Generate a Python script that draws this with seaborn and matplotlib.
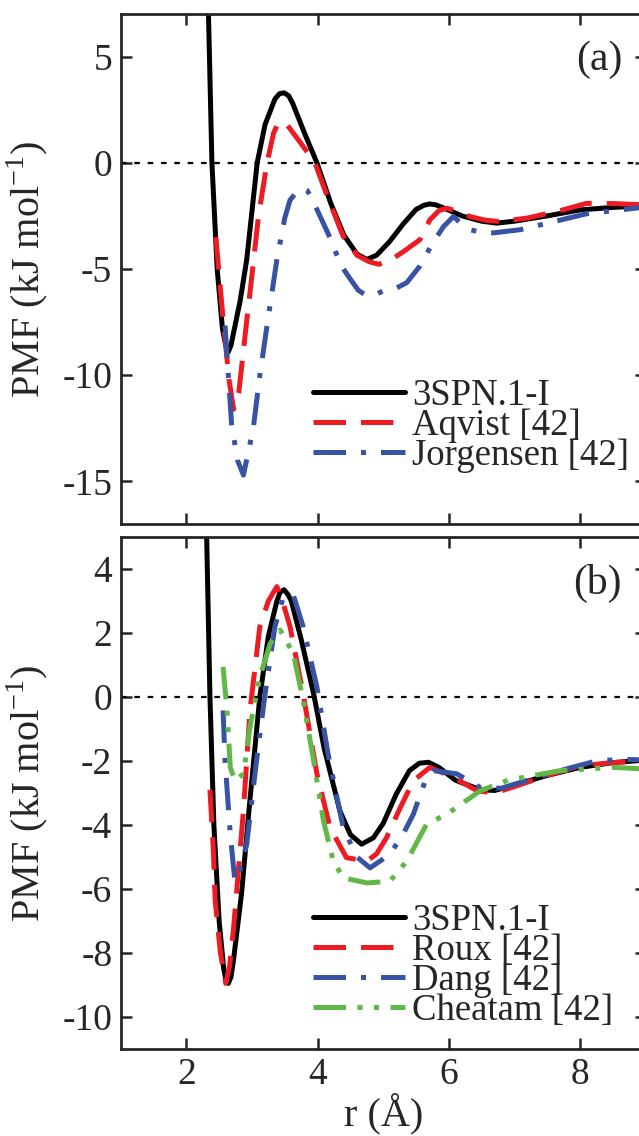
import numpy as np
import pandas as pd
import matplotlib
matplotlib.use("Agg")
import matplotlib.pyplot as plt
import seaborn as sns

# panel (a) curves
a_black_x = [2.33, 2.39, 2.47, 2.55, 2.60, 2.64, 2.68, 2.72, 2.82, 2.92, 3.08, 3.20, 3.35, 3.42, 3.49,
             3.56, 3.62, 3.80, 3.99, 4.20, 4.40, 4.60, 4.75, 4.90, 5.10, 5.30, 5.50, 5.62, 5.71,
             5.80, 5.90, 6.20, 6.50, 6.73, 7.00, 7.50, 8.00, 8.50, 9.00]
a_black_y = [8.0, 0.0, -5.0, -7.8, -8.6, -8.9, -8.6, -8.0, -6.5, -4.57, 0.0, 1.8, 3.0, 3.25, 3.29,
             3.15, 2.8, 1.4, 0.0, -1.9, -3.4, -4.3, -4.55, -4.35, -3.7, -2.9, -2.2, -2.0, -1.94,
             -1.98, -2.1, -2.5, -2.75, -2.84, -2.75, -2.5, -2.22, -2.1, -2.02]
a_red_x = [2.45, 2.55, 2.65, 2.72, 2.80, 2.90, 3.00, 3.10, 3.23, 3.33, 3.39, 3.45, 3.52, 3.58, 3.75,
           3.96, 4.15, 4.39, 4.60, 4.78, 4.93, 5.10, 5.30, 5.56, 5.71, 5.85, 5.97, 6.15, 6.32,
           6.55, 6.78, 7.20, 7.70, 8.10, 8.50, 9.00]
a_red_y = [-3.5, -7.0, -10.2, -11.6, -10.8, -8.0, -5.3, -2.5, 0.0, 1.4, 1.8, 1.95, 1.85, 1.6, 0.9,
           0.0, -1.6, -3.46, -4.35, -4.65, -4.78, -4.6, -4.2, -3.62, -2.69, -2.25, -2.14, -2.3, -2.53,
           -2.7, -2.77, -2.6, -2.25, -1.91, -1.92, -1.98]
a_blue_x = [2.59, 2.69, 2.78, 2.87, 3.02, 3.12, 3.23, 3.38, 3.50, 3.58, 3.70, 3.78, 3.84, 3.90, 4.04,
            4.20, 4.35, 4.50, 4.62, 4.75, 4.88, 5.00, 5.20, 5.36, 5.56, 5.75, 5.92, 6.07, 6.20,
            6.32, 6.50, 6.68, 7.09, 7.60, 8.10, 8.61, 9.00]
a_blue_y = [-7.66, -12.3, -14.0, -14.7, -12.5, -10.0, -7.66, -4.56, -2.6, -1.76, -1.3, -1.21, -1.3, -1.6, -2.53,
            -3.6, -4.8, -5.48, -6.0, -6.26, -6.2, -6.03, -5.9, -5.64, -4.86, -3.8, -3.0, -2.53, -2.9,
            -3.15, -3.28, -3.3, -3.15, -2.77, -2.4, -2.22, -2.08]

# panel (b) curves
b_black_x = [2.30, 2.36, 2.42, 2.50, 2.57, 2.60, 2.64, 2.68, 2.72, 2.84, 2.97, 3.12, 3.25, 3.38, 3.43,
             3.49, 3.55, 3.60, 3.75, 3.94, 4.10, 4.34, 4.50, 4.67, 4.85, 5.00, 5.20, 5.40, 5.55,
             5.69, 5.85, 6.10, 6.48, 6.70, 7.00, 7.50, 8.00, 8.50, 9.00]
b_black_y = [6.0, 0.0, -4.0, -7.0, -8.5, -8.8, -8.95, -8.75, -8.2, -6.17, -3.2, 0.0, 1.9, 3.0, 3.28,
             3.35, 3.2, 3.0, 1.8, 0.1, -1.6, -3.56, -4.3, -4.6, -4.4, -3.95, -3.03, -2.3, -2.07,
             -2.04, -2.2, -2.6, -2.9, -2.92, -2.75, -2.45, -2.2, -2.05, -1.97]
b_red_x = [2.36, 2.41, 2.44, 2.52, 2.60, 2.66, 2.72, 2.87, 2.97, 3.12, 3.25, 3.38, 3.48, 3.58, 3.78,
           3.99, 4.19, 4.44, 4.75, 4.90, 5.05, 5.25, 5.46, 5.71, 6.07, 6.43, 6.70, 7.00, 7.50,
           8.00, 8.50, 9.00]
b_red_y = [-2.9, -4.71, -6.38, -8.0, -8.95, -8.4, -7.22, -3.56, -0.42, 2.2, 3.0, 3.45, 2.9, 2.2, 0.1,
           -2.4, -4.08, -5.02, -5.13, -4.9, -4.4, -3.5, -2.62, -2.2, -2.51, -2.93, -3.0, -2.8, -2.45,
           -2.15, -2.05, -2.0]
b_blue_x = [2.56, 2.59, 2.67, 2.74, 2.82, 2.92, 3.07, 3.20, 3.35, 3.48, 3.63, 3.78, 3.99, 4.16, 4.39,
            4.60, 4.80, 5.10, 5.30, 5.46, 5.66, 5.76, 6.12, 6.48, 6.80, 7.20, 7.70, 8.26, 8.70, 9.00]
b_blue_y = [-0.42, -1.99, -4.29, -5.76, -5.4, -4.6, -1.99, 0.1, 2.2, 3.14, 3.19, 2.2, 0.31, -1.78, -4.08,
            -5.0, -5.34, -4.92, -4.3, -3.66, -2.51, -2.3, -2.4, -2.83, -2.85, -2.6, -2.3, -1.99, -1.95, -1.97]
b_green_x = [2.56, 2.62, 2.67, 2.74, 2.87, 2.97, 3.12, 3.28, 3.43, 3.63, 3.78, 3.94, 4.09, 4.24, 4.39,
             4.75, 5.10, 5.36, 5.66, 5.97, 6.48, 6.90, 7.70, 8.51, 9.00]
b_green_y = [0.94, -0.42, -2.2, -2.62, -2.4, -0.94, 0.63, 1.68, 2.09, 1.36, -0.1, -1.99, -3.87, -5.13, -5.65,
             -5.81, -5.76, -5.13, -3.98, -3.66, -2.93, -2.6, -2.3, -2.2, -2.25]

a_labels = ["3SPN.1-I", "Aqvist [42]", "Jorgensen [42]"]
b_labels = ["3SPN.1-I", "Roux [42]", "Dang [42]", "Cheatam [42]"]

a_ticks = [5, 0, -5, -10, -15]
b_ticks = [4, 2, 0, -2, -4, -6, -8, -10]
x_ticks = [2, 4, 6, 8]

colors = ["#000000", "#ED1C24", "#3953A4", "#62B846"]
dash_styles = ["", (6.5, 3), (6.5, 3, 1, 3), (6.5, 2.3, 1, 2.3, 1, 2.3)]

sns.set_style("ticks")
plt.rcParams["font.family"] = ["Liberation Serif", "DejaVu Serif"]
plt.rcParams["axes.unicode_minus"] = False
plt.rcParams["mathtext.fontset"] = "custom"
plt.rcParams["mathtext.rm"] = "Liberation Serif"


def make_df(xs, ys, labels):
    frames = []
    for x, y, lab in zip(xs, ys, labels):
        frames.append(pd.DataFrame({"r": x, "pmf": y, "model": lab}))
    return pd.concat(frames, ignore_index=True)


df_a = make_df([a_black_x, a_red_x, a_blue_x], [a_black_y, a_red_y, a_blue_y], a_labels)
df_b = make_df([b_black_x, b_red_x, b_blue_x, b_green_x],
               [b_black_y, b_red_y, b_blue_y, b_green_y], b_labels)

W, H = 639, 1136
fig = plt.figure(figsize=(W / 100, H / 100), dpi=100)
ax1 = fig.add_axes([120.7 / W, 1 - 524 / H, 525 / W, 510 / H])
ax2 = fig.add_axes([120.7 / W, 1 - 1049 / H, 525 / W, 512 / H])

for ax, df, labels, ticks, ylim, tag, leg_y in [
    (ax1, df_a, a_labels, a_ticks, (-17, 7), "(a)", 0.286),
    (ax2, df_b, b_labels, b_ticks, (-11, 5), "(b)", 0.285),
]:
    n = len(labels)
    ax.axhline(0, color="black", lw=1.6, ls=(0, (2.5, 3.5)), zorder=1)
    sns.lineplot(data=df, x="r", y="pmf", hue="model", style="model",
                 palette=dict(zip(labels, colors[:n])),
                 dashes=dict(zip(labels, dash_styles[:n])),
                 sort=False, estimator=None, linewidth=3.6, ax=ax)
    handles, labs = ax.get_legend_handles_labels()
    ax.legend(handles, labs, loc="upper left", frameon=False, fontsize=26.5,
              handlelength=2.5, handletextpad=0.2, labelspacing=-0.12, borderpad=0,
              borderaxespad=0, bbox_to_anchor=(0.366, leg_y))
    ax.set_xlim(1, 9)
    ax.set_ylim(*ylim)
    ax.set_xticks(x_ticks)
    ax.set_yticks(ticks)
    ax.tick_params(direction="in", length=8, width=1.8, labelsize=27,
                   top=True, right=True, pad=6)
    for sp in ax.spines.values():
        sp.set_linewidth(2.0)
    ax.set_ylabel("PMF (kJ mol$^{\\mathregular{-1}}$)", fontsize=29)
    ax.yaxis.set_label_coords(-0.135, 0.5)
    ax.text(0.955, 0.91, tag, transform=ax.transAxes, ha="right", va="center", fontsize=30)

ax1.set_xlabel("")
ax1.set_xticklabels([])
ax2.set_xticklabels([str(t) for t in x_ticks])
ax2.set_xlabel("r (Å)", fontsize=29)
ax2.xaxis.set_label_coords(0.5, -0.085)

fig.savefig("out.png", dpi=100)
